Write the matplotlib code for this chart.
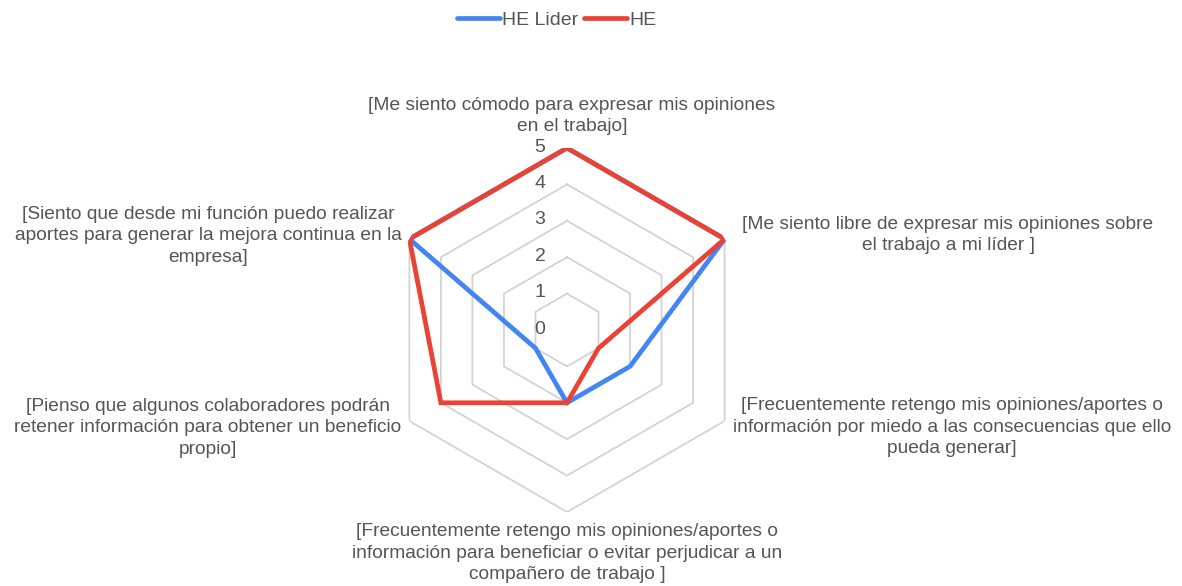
import numpy as np
import matplotlib.pyplot as plt
from matplotlib.lines import Line2D

categories = [
    "[Me siento cómodo para expresar mis opiniones\nen el trabajo]",
    "[Me siento libre de expresar mis opiniones sobre\nel trabajo a mi líder ]",
    "[Frecuentemente retengo mis opiniones/aportes o\ninformación por miedo a las consecuencias que ello\npueda generar]",
    "[Frecuentemente retengo mis opiniones/aportes o\ninformación para beneficiar o evitar perjudicar a un\ncompañero de trabajo ]",
    "[Pienso que algunos colaboradores podrán\nretener información para obtener un beneficio\npropio]",
    "[Siento que desde mi función puedo realizar\naportes para generar la mejora continua en la\nempresa]",
]
he_lider = [5, 5, 2, 2, 1, 5]
he = [5, 5, 1, 2, 4, 5]
levels = [0, 1, 2, 3, 4, 5]

BLUE = "#4285F4"
RED = "#EA4335"
GRID = "#d3d3d3"
TEXT = "#555555"

plt.rcParams["font.family"] = ["Liberation Sans", "DejaVu Sans"]

W, H = 1182, 586
fig = plt.figure(figsize=(W / 100, H / 100), dpi=100)

cx, cy, R = 567, 330, 182
ax = fig.add_axes([(cx - R) / W, (H - cy - R) / H, 2 * R / W, 2 * R / H], projection="polar")
ax.set_theta_offset(np.pi / 2)
ax.set_theta_direction(-1)
ax.set_ylim(0, 5)
ax.grid(False)
ax.spines["polar"].set_visible(False)
ax.set_xticks([])
ax.set_yticks([])
ax.patch.set_alpha(0)

n = len(categories)
angles = np.linspace(0, 2 * np.pi, n, endpoint=False)
closed = np.append(angles, angles[0])

# hexagon grid
for lv in levels[1:]:
    ax.plot(closed, [lv] * (n + 1), color=GRID, lw=1.3, zorder=1)

# level labels
for lv in levels:
    ax.annotate(str(lv), xy=(0, lv), xytext=(-27, 1), textcoords="offset pixels",
                ha="center", va="center", fontsize=14, color=TEXT)

ax.plot(closed, he_lider + he_lider[:1], color=BLUE, lw=3.4, zorder=3, solid_joinstyle="miter")
ax.plot(closed, he + he[:1], color=RED, lw=3.4, zorder=4, solid_joinstyle="miter")

# category labels (pixel centres of each text block)
label_pos = [(572, 116), (948, 235), (952, 427), (567, 553), (208, 428), (208, 236)]
for text, (px, py) in zip(categories, label_pos):
    fig.text(px / W, 1 - py / H, text, ha="center", va="center", fontsize=13.8,
             color=TEXT, linespacing=1.38)

handles = [Line2D([], [], color=BLUE, lw=3.4, solid_capstyle="round"),
           Line2D([], [], color=RED, lw=3.4, solid_capstyle="round")]
fig.legend(handles, ["HE Lider", "HE"], loc="center", bbox_to_anchor=(0.471, 1 - 20 / H),
           ncol=2, frameon=False, fontsize=14, handlelength=2.2, handletextpad=0.1,
           columnspacing=0.3, labelcolor=TEXT)

fig.savefig("out.png", dpi=100)
